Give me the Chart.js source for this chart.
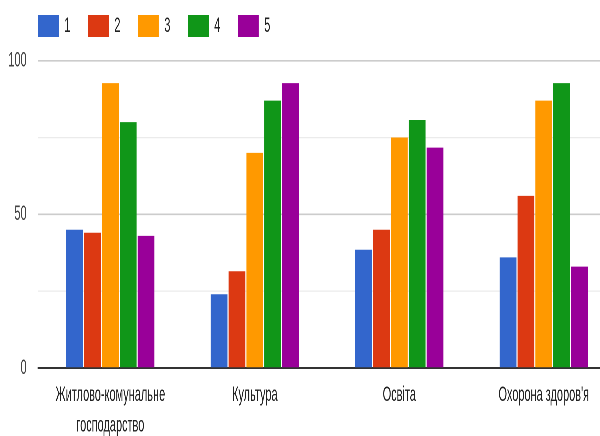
<!DOCTYPE html>
<html>
<head>
<meta charset="utf-8">
<script src="https://cdn.jsdelivr.net/npm/chart.js@4.4.0/dist/chart.umd.min.js"></script>
<style>
    html, body { margin: 0; padding: 0; background: #fff; overflow: hidden; width: 600px; height: 436px; }
    /* the reference text is very narrow, so the chart is drawn wide and squeezed */
    #wrap { width: 1200px; height: 436px; transform: scaleX(0.521739); transform-origin: 0 0; }
</style>
</head>
<body>
<div id="wrap"><canvas id="chart" width="1200" height="436"></canvas></div>
<script>
// Data
const categories = [['Житлово-комунальне', 'господарство'], 'Культура', 'Освіта', "Охорона здоров'я"];
const seriesNames = ['1', '2', '3', '4', '5'];
const series1 = [45, 24, 38.5, 36];
const series2 = [44, 31.5, 45, 56];
const series3 = [92.7, 70, 75, 87];
const series4 = [80, 87, 80.7, 92.7];
const series5 = [43, 92.7, 71.7, 33];
const yTickLabels = [0, 50, 100];

const colors = ['#3366cc', '#dc3912', '#ff9900', '#109618', '#990099'];
const allSeries = [series1, series2, series3, series4, series5];

const FONT = 'Arial, "Liberation Sans", sans-serif';

// Legend placement (padding is also the gap between items)
const legendPadding = 33.6;
const legendPlacer = {
    id: 'legendPlacer',
    afterLayout(chart) {
        if (!chart.legend) return;
        chart.legend.left = 72.8 - legendPadding;
        chart.legend.top = 15 - legendPadding;
    }
};

new Chart(document.getElementById('chart'), {
    type: 'bar',
    data: {
        labels: categories,
        datasets: allSeries.map((values, i) => ({
            label: seriesNames[i],
            data: values,
            backgroundColor: colors[i],
            borderWidth: 0,
            barPercentage: 0.94,
            categoryPercentage: 0.618
        }))
    },
    options: {
        responsive: false,
        animation: false,
        devicePixelRatio: 2,
        layout: {
            padding: { left: 0, right: 19.3, top: -4.9, bottom: 0 }
        },
        plugins: {
            legend: {
                position: 'top',
                align: 'start',
                labels: {
                    boxWidth: 40,
                    boxHeight: 22,
                    padding: legendPadding,
                    color: '#222',
                    font: { family: FONT, size: 21 }
                }
            },
            tooltip: { enabled: false }
        },
        scales: {
            x: {
                z: 1,
                afterFit(scale) { scale.height = 68; },
                grid: { display: false, drawTicks: false },
                border: { display: true, color: '#333', width: 2 },
                ticks: {
                    color: '#222',
                    padding: 12,
                    maxRotation: 0,
                    autoSkip: false,
                    font: { family: FONT, size: 21, lineHeight: 1.45 }
                }
            },
            y: {
                min: 0,
                max: 100,
                afterFit(scale) { scale.width = 73; },
                border: { display: false },
                grid: {
                    drawTicks: false,
                    color: ctx => {
                        const v = ctx.tick.value;
                        if (v === 0) return 'rgba(0,0,0,0)';
                        return v % 50 === 0 ? '#cccccc' : '#ebebeb';
                    },
                    lineWidth: ctx => (ctx.tick.value % 50 === 0 ? 1.6 : 1.2)
                },
                ticks: {
                    stepSize: 25,
                    padding: 22,
                    color: '#444',
                    font: { family: FONT, size: 21 },
                    callback: value => (yTickLabels.includes(value) ? value : '')
                }
            }
        }
    },
    plugins: [legendPlacer]
});
</script>
</body>
</html>
